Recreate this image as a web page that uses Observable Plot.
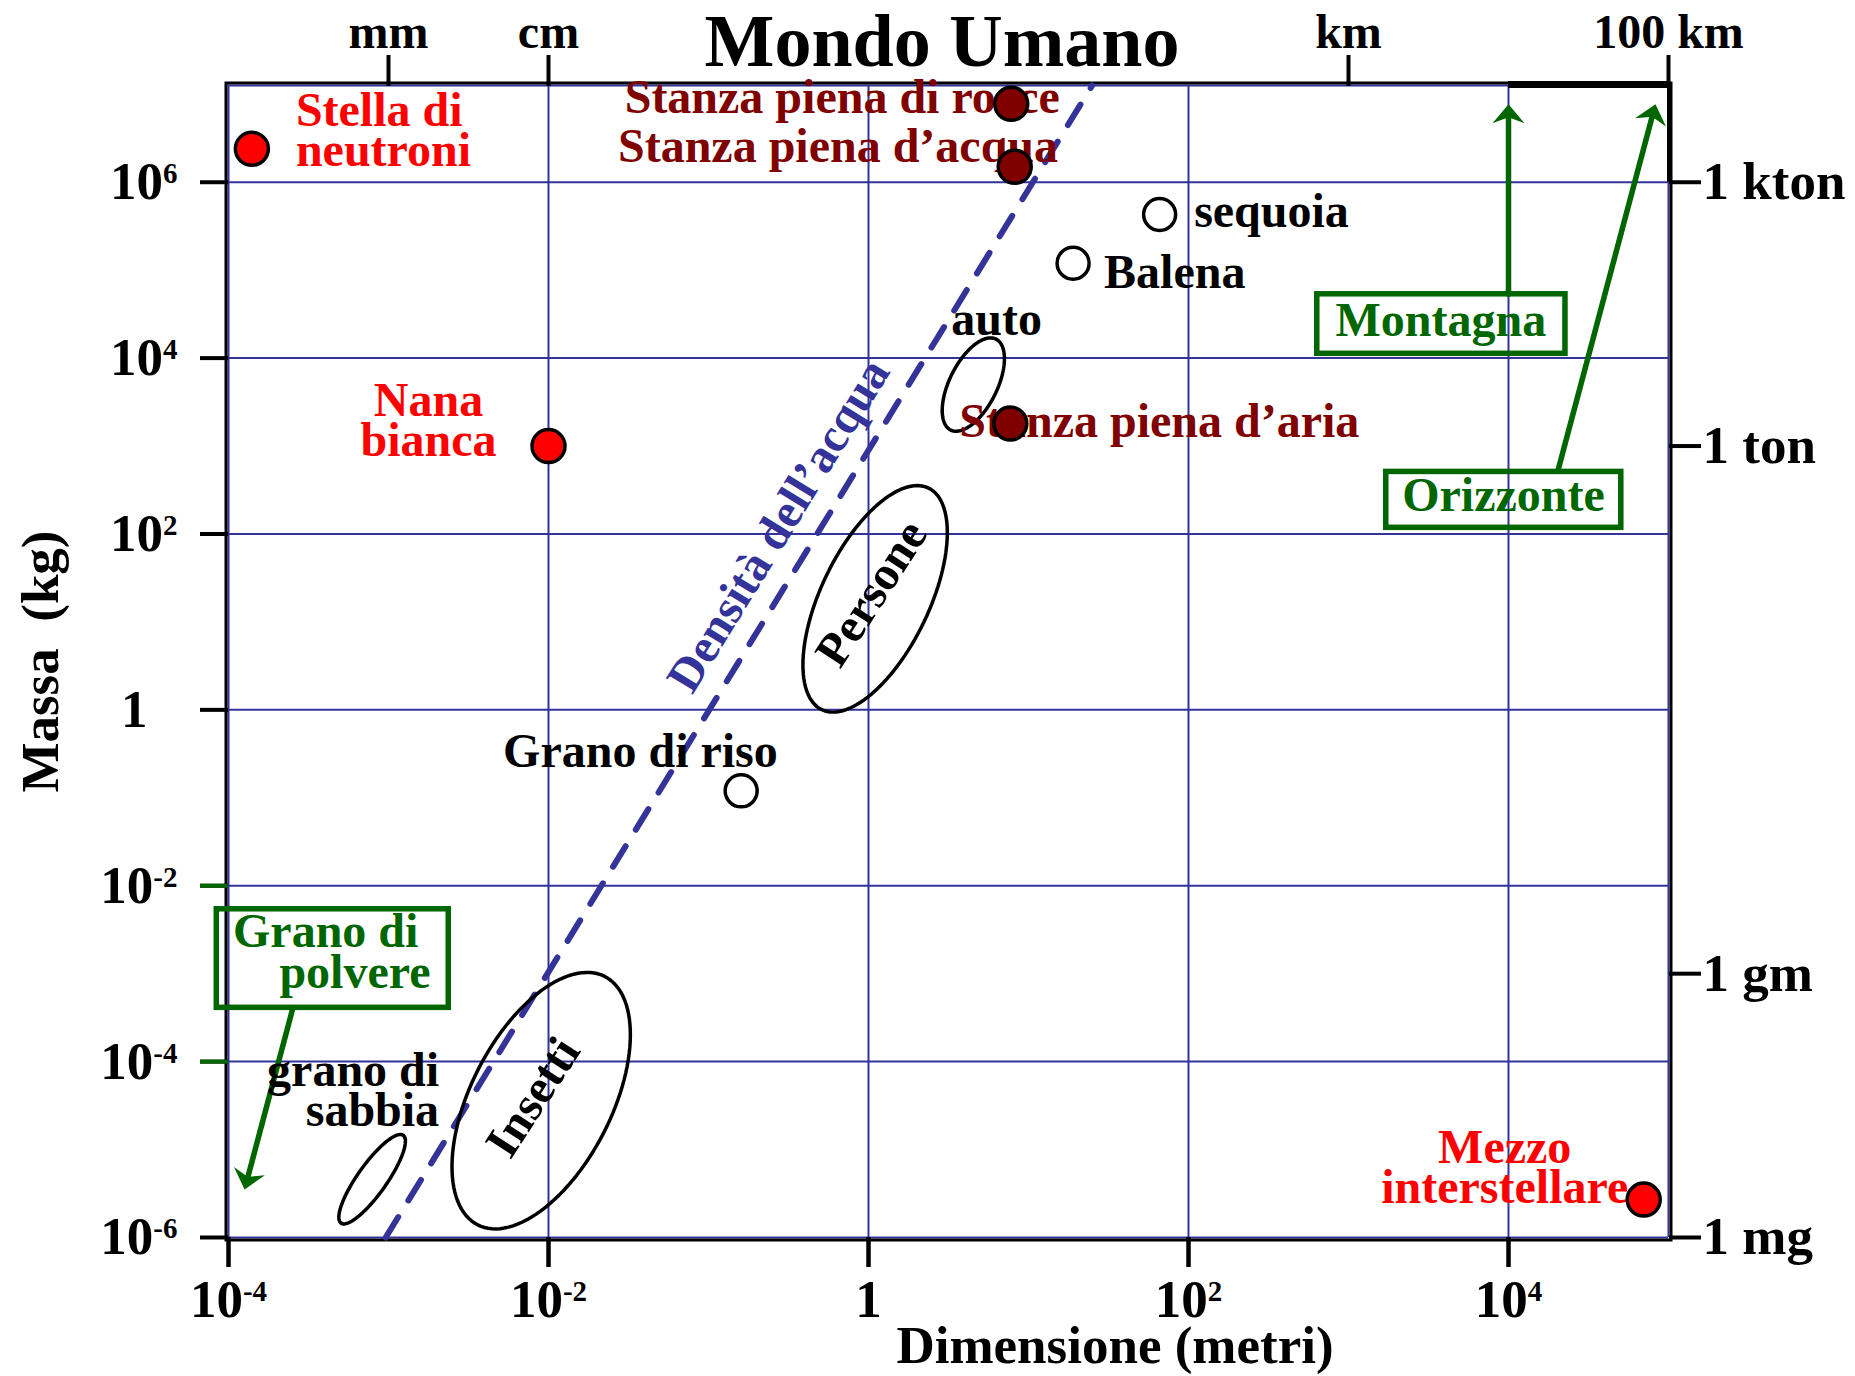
<!DOCTYPE html>
<html>
<head>
<meta charset="utf-8">
<script src="https://cdn.jsdelivr.net/npm/d3@7"></script>
<script src="https://cdn.jsdelivr.net/npm/@observablehq/plot@0.6"></script>
<style>
  html, body { margin: 0; padding: 0; background: #fff; }
  #chart svg { display: block; }
</style>
</head>
<body>
<div id="chart"></div>
<script>
// ---------------- DATA ----------------
// Oggetti astronomici (punti rossi)
const stelleNomi = ["Stella di\nneutroni", "Nana\nbianca", "Mezzo\ninterstellare"];
const stelleDimensione = [1.4e-4, 0.01, 7e4];
const stelleMassa = [2.4e6, 1000, 2.7e-6];

// Stanze (punti rosso scuro)
const stanzeNomi = ["Stanza piena di rocce", "Stanza piena d’acqua", "Stanza piena d’aria"];
const stanzeDimensione = [7.8, 8.2, 7.7];
const stanzeMassa = [7.8e6, 1.5e6, 1800];

// Oggetti (cerchi vuoti)
const oggettiNomi = ["sequoia", "Balena", "Grano di riso"];
const oggettiDimensione = [66, 19, 0.16];
const oggettiMassa = [4.3e5, 1.2e5, 0.12];

// Regioni (ellissi)
const regioniNomi = ["Persone", "auto", "Insetti", "grano di\nsabbia"];
const regioniDimensione = [1.1, 4.52, 0.009, 7.9e-4];
const regioniMassa = [18.3, 5000, 3.6e-5, 4.6e-6];

// Densità dell'acqua (linea tratteggiata)
const acquaDimensione = [9.6e-4, 25];
const acquaMassa = [1e-6, 1.26e7];
const acquaEtichetta = "Densità dell’acqua";
const acquaEtichettaDimensione = 0.274;
const acquaEtichettaMassa = 125;

// Note verdi (riquadri + frecce)
const noteNomi = ["Montagna", "Orizzonte", "Grano di", "polvere"];
const noteDimensione = [3780, 9300, 1.067e-4, 2.08e-4];
const noteMassa = [18070, 181.5, 1.99e-3, 6.86e-4];
const riquadriX1 = [638, 1722, 8.45e-5];
const riquadriX2 = [22700, 50700, 2.38e-3];
const riquadriY1 = [11190, 117.5, 4.09e-4];
const riquadriY2 = [53170, 508, 5.4e-3];
const frecceX1 = [1e4, 20460, 2.51e-4];
const frecceY1 = [53170, 541, 3.9e-4];
const frecceX2 = [1e4, 82900, 1.26e-4];
const frecceY2 = [7.73e6, 7.73e6, 3.52e-6];

// Assi
const xTicks = [1e-4, 1e-2, 1, 1e2, 1e4];
const yTicks = [1e-6, 1e-4, 1e-2, 1, 1e2, 1e4, 1e6];
const yTicksVerdi = [1e-4, 1e-2];
const lunghezzeEtichette = ["mm", "cm", "km", "100 km"];
const lunghezzeValori = [1e-3, 1e-2, 1e3, 1e5];
const masseEtichette = ["1 mg", "1 gm", "1 ton", "1 kton"];
const masseValori = [1e-6, 1e-3, 1e3, 1e6];
const xDominio = [1e-4, 1e5];
const yDominio = [1e-6, Math.pow(10, 7.1)];
const grigliaX = [1e-4, 1e-2, 1, 1e2, 1e4, 1e5];
const grigliaY = [1e-6, 1e-4, 1e-2, 1, 1e2, 1e4, 1e6, Math.pow(10, 7.1)];

// ---------------- STYLE ----------------
const W = 1855, H = 1376;
const M = {left: 228, right: 187, top: 85, bottom: 139};
const BLU = "#33339a", ROSSO = "#ff0000", ROSSOSCURO = "#800000", VERDE = "#006600";
const FONT = "'Liberation Serif', 'Times New Roman', Times, serif";

const pxDecX = (W - M.left - M.right) / Math.log10(xDominio[1] / xDominio[0]);
const pxDecY = (H - M.top - M.bottom) / Math.log10(yDominio[1] / yDominio[0]);

// forma delle ellissi (px, gradi sullo schermo)
const regioniForma = {
  "Persone": {a: 123, b: 54, angle: -64.3},
  "auto": {a: 50.8, b: 23.8, angle: -63.5},
  "Insetti": {a: 139.5, b: 70.3, angle: -62.9},
  "grano di\nsabbia": {a: 53.8, b: 14.6, angle: -54.7}
};

const stiliEtichette = {
  "Stella di\nneutroni": {dx: 44, dy: 17.4, textAnchor: "start"},
  "Nana\nbianca": {dx: -120, dy: 9.5, textAnchor: "middle"},
  "Mezzo\ninterstellare": {dx: -139, dy: 3.2, textAnchor: "middle"},
  "Stanza piena di rocce": {dx: -169, dy: 9.7, textAnchor: "middle"},
  "Stanza piena d’acqua": {dx: -176.7, dy: -4.3, textAnchor: "middle"},
  "Stanza piena d’aria": {dx: -51, dy: 13, textAnchor: "start"},
  "sequoia": {dx: 34.5, dy: 13, textAnchor: "start"},
  "Balena": {dx: 31, dy: 24.8, textAnchor: "start"},
  "Grano di riso": {dx: -100.7, dy: -23.8, textAnchor: "middle"},
  "Persone": {dx: -1.5, dy: -4, textAnchor: "middle", lineAnchor: "middle", rotate: -57},
  "auto": {dx: -22, dy: -50, textAnchor: "start"},
  "Insetti": {dx: -6, dy: -2, textAnchor: "middle", lineAnchor: "middle", rotate: -57},
  "grano di\nsabbia": {dx: 67, dy: -53.7, textAnchor: "end"}
};

// punta di freccia piena (simbolo personalizzato, punta in (0,0) rivolta verso l'alto)
const puntaFreccia = {
  draw(context) {
    context.moveTo(0, 0);
    context.lineTo(16, 19);
    context.lineTo(0, 13);
    context.lineTo(-16, 19);
    context.closePath();
  }
};

// ---------------- TABLES ----------------
const tab = (nomi, dim, massa) => nomi.map((nome, i) => ({nome, dimensione: dim[i], massa: massa[i]}));
const stelle = tab(stelleNomi, stelleDimensione, stelleMassa);
const stanze = tab(stanzeNomi, stanzeDimensione, stanzeMassa);
const oggetti = tab(oggettiNomi, oggettiDimensione, oggettiMassa);
const regioni = tab(regioniNomi, regioniDimensione, regioniMassa);
const acqua = acquaDimensione.map((d, i) => ({dimensione: d, massa: acquaMassa[i]}));
const riquadri = riquadriX1.map((d, i) => ({x1: d, x2: riquadriX2[i], y1: riquadriY1[i], y2: riquadriY2[i]}));
const frecce = frecceX1.map((d, i) => {
  const dxPx = Math.log10(frecceX2[i] / d) * pxDecX;
  const dyPx = -Math.log10(frecceY2[i] / frecceY1[i]) * pxDecY;
  return {x1: d, y1: frecceY1[i], x2: frecceX2[i], y2: frecceY2[i], angolo: Math.atan2(dxPx, -dyPx) * 180 / Math.PI};
});
const note = noteNomi.map((nome, i) => ({nome, dimensione: noteDimensione[i], massa: noteMassa[i]}));

// contorni delle ellissi
const contorni = [];
regioni.forEach(r => {
  const {a, b, angle} = regioniForma[r.nome];
  const th = angle * Math.PI / 180;
  const n = 120;
  for (let k = 0; k < n; k++) {
    const t = 2 * Math.PI * k / n;
    const ox = a * Math.cos(t) * Math.cos(th) - b * Math.sin(t) * Math.sin(th);
    const oy = a * Math.cos(t) * Math.sin(th) + b * Math.sin(t) * Math.cos(th);
    contorni.push({regione: r.nome, x: r.dimensione * Math.pow(10, ox / pxDecX), y: r.massa * Math.pow(10, -oy / pxDecY)});
  }
});

const fmtPot = d => {
  const e = Math.round(Math.log10(d));
  return e === 0 ? "1" : "10^" + e;
};

function etichette(tabella, colore) {
  return tabella.map(d => Plot.text([d], {
    x: "dimensione", y: "massa", text: "nome", fill: colore,
    fontSize: 48, lineHeight: 0.833, lineAnchor: "bottom",
    ...stiliEtichette[d.nome]
  }));
}

const topY = yDominio[1];

const plot = Plot.plot({
  width: W, height: H,
  marginLeft: M.left, marginRight: M.right, marginTop: M.top, marginBottom: M.bottom,
  x: {type: "log", domain: xDominio},
  y: {type: "log", domain: yDominio},
  style: {fontFamily: FONT, fontWeight: "bold", background: "white", color: "black", overflow: "visible"},
  marks: [
    // griglia blu
    Plot.ruleX(grigliaX, {stroke: BLU, strokeWidth: 2}),
    Plot.ruleY(grigliaY, {stroke: BLU, strokeWidth: 2}),
    // cornice nera
    Plot.frame({stroke: "black", strokeWidth: 3, inset: -2.5}),
    Plot.ruleY([topY], {x1: 1e4, x2: 1e5, stroke: "black", strokeWidth: 7, dy: -1}),
    Plot.ruleX([1e5], {y1: 1e6, y2: topY, stroke: "black", strokeWidth: 5, dx: 1}),
    // densità dell'acqua
    Plot.line(acqua, {x: "dimensione", y: "massa", stroke: "#333399", strokeWidth: 6, strokeDasharray: "24 19.5"}),
    Plot.text([acquaEtichetta], {x: acquaEtichettaDimensione, y: acquaEtichettaMassa, text: d => d, fill: "#333399", fontSize: 48, rotate: -58.5, textAnchor: "middle", lineAnchor: "middle"}),
    // ellissi
    Plot.line(contorni, {x: "x", y: "y", z: "regione", curve: "linear-closed", stroke: "black", strokeWidth: 3.5}),
    // note verdi
    Plot.rect(riquadri, {x1: "x1", x2: "x2", y1: "y1", y2: "y2", stroke: VERDE, strokeWidth: 5.5, fill: "none"}),
    Plot.arrow(frecce, {x1: "x1", y1: "y1", x2: "x2", y2: "y2", stroke: VERDE, strokeWidth: 5.5, headLength: 0, insetEnd: 12}),
    Plot.dot(frecce, {x: "x2", y: "y2", symbol: puntaFreccia, r: 10, rotate: "angolo", fill: VERDE, stroke: "none"}),
    Plot.text(note.slice(0, 2), {x: "dimensione", y: "massa", text: "nome", fill: VERDE, fontSize: 48, textAnchor: "middle", lineAnchor: "bottom"}),
    Plot.text(note.slice(2), {x: "dimensione", y: "massa", text: "nome", fill: VERDE, fontSize: 48, textAnchor: "start", lineAnchor: "bottom"}),
    // etichette
    etichette(stelle, ROSSO),
    etichette(stanze, ROSSOSCURO),
    etichette(oggetti, "black"),
    etichette(regioni, "black"),
    // punti
    Plot.dot(stelle, {x: "dimensione", y: "massa", r: 16.5, fill: ROSSO, stroke: "black", strokeWidth: 3.5}),
    Plot.dot(stanze, {x: "dimensione", y: "massa", r: 16.5, fill: ROSSOSCURO, stroke: "black", strokeWidth: 3.5}),
    Plot.dot(oggetti, {x: "dimensione", y: "massa", r: 16, fill: "white", stroke: "black", strokeWidth: 3.5}),
    // assi
    Plot.axisX({anchor: "bottom", ticks: xTicks, tickSize: 30, tickPadding: 12, tickFormat: fmtPot, fontSize: 53, strokeWidth: 4.5, label: null}),
    Plot.axisX({anchor: "top", ticks: lunghezzeValori, tickSize: 31, tickPadding: 7, tickFormat: d => lunghezzeEtichette[lunghezzeValori.indexOf(d)], fontSize: 48, strokeWidth: 4, label: null}),
    Plot.axisY({anchor: "left", ticks: yTicks, tickSize: 28, tickPadding: 23, tickFormat: fmtPot, fontSize: 53, strokeWidth: 4, label: null}),
    Plot.axisY({anchor: "left", ticks: yTicksVerdi, tickSize: 28, tickFormat: () => "", stroke: VERDE, strokeWidth: 4, label: null}),
    Plot.axisY({anchor: "right", ticks: masseValori, tickSize: 32, tickPadding: 2, tickFormat: d => masseEtichette[masseValori.indexOf(d)], fontSize: 53, strokeWidth: 4, label: null}),
    // titoli
    Plot.text(["Mondo Umano"], {frameAnchor: "top", text: d => d, dx: -6.5, dy: -19.5, textAnchor: "middle", lineAnchor: "bottom", fontSize: 74}),
    Plot.text(["Dimensione (metri)"], {frameAnchor: "bottom", text: d => d, dx: 166.5, dy: 125, textAnchor: "middle", lineAnchor: "bottom", fontSize: 53}),
    Plot.text(["Massa\u00a0 (kg)"], {frameAnchor: "left", text: d => d, dx: 57 - M.left, rotate: -90, textAnchor: "middle", lineAnchor: "bottom", fontSize: 53})
  ]
});

// apici per le potenze di 10
d3.select(plot).selectAll("text").each(function () {
  const m = /^10\^(-?\d+)$/.exec(this.textContent);
  if (m) {
    const sel = d3.select(this);
    sel.text(null);
    sel.append("tspan").text("10");
    sel.append("tspan").attr("dy", -16).attr("font-size", 29).text(m[1]);
  }
});
d3.select(plot).selectAll('g[aria-label="y-axis tick label"] text').each(function () {
  if (this.textContent === "1") d3.select(this).attr("dx", -30);
});

document.getElementById("chart").appendChild(plot);
</script>
</body>
</html>
